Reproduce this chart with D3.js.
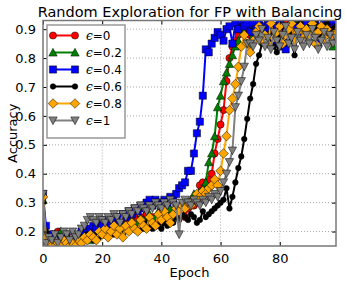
<!DOCTYPE html>
<meta charset="utf-8">
<style>
body { margin: 0; background: #fff; }
svg { display: block; font-family: "DejaVu Sans", sans-serif; }
.axis text { font: 13px "DejaVu Sans", sans-serif; fill: #000; }
.axis path { display: none; }
.axis line { stroke: #000; }
.grid line { stroke: #aaa; stroke-dasharray: 1,2; }
.title { font: 14.5px "DejaVu Sans", sans-serif; }
.label { font: 13px "DejaVu Sans", sans-serif; }
.legend text { font: 12px "DejaVu Sans", sans-serif; }
</style>
<svg width="346" height="283"></svg>
<script src="https://d3js.org/d3.v7.min.js"></script>
<script>

var epochs = d3.range(0, 100);

var eps0 = [
  0.32, 0.18, 0.17, 0.19, 0.16, 0.20, 0.20, 0.17, 0.16, 0.18,
  0.15, 0.17, 0.19, 0.20, 0.18, 0.21, 0.19, 0.20, 0.22, 0.21,
  0.20, 0.22, 0.21, 0.23, 0.22, 0.21, 0.23, 0.24, 0.22, 0.24,
  0.23, 0.25, 0.24, 0.22, 0.25, 0.26, 0.24, 0.25, 0.22, 0.23,
  0.25, 0.26, 0.24, 0.27, 0.25, 0.28, 0.26, 0.27, 0.25, 0.28,
  0.30, 0.29, 0.31, 0.36, 0.37, 0.35, 0.38, 0.40, 0.47, 0.52,
  0.57, 0.62, 0.72, 0.80, 0.84, 0.86, 0.88, 0.90, 0.92, 0.90,
  0.88, 0.91, 0.89, 0.92, 0.87, 0.90, 0.93, 0.89, 0.88, 0.91,
  0.90, 0.87, 0.92, 0.89, 0.91, 0.88, 0.90, 0.93, 0.89, 0.91,
  0.88, 0.90, 0.92, 0.87, 0.91, 0.89, 0.90, 0.92, 0.88, 0.90
];

var eps02 = [
  0.31, 0.17, 0.16, 0.18, 0.19, 0.17, 0.20, 0.18, 0.16, 0.17,
  0.16, 0.15, 0.17, 0.16, 0.18, 0.19, 0.17, 0.18, 0.20, 0.19,
  0.21, 0.19, 0.20, 0.22, 0.21, 0.20, 0.22, 0.23, 0.21, 0.22,
  0.24, 0.22, 0.23, 0.25, 0.24, 0.23, 0.26, 0.24, 0.25, 0.27,
  0.26, 0.25, 0.27, 0.28, 0.26, 0.29, 0.27, 0.28, 0.30, 0.29,
  0.31, 0.33, 0.32, 0.34, 0.35, 0.37, 0.44, 0.47, 0.53, 0.63,
  0.67, 0.72, 0.75, 0.78, 0.81, 0.84, 0.86, 0.90, 0.89, 0.92,
  0.90, 0.88, 0.92, 0.89, 0.91, 0.87, 0.90, 0.92, 0.88, 0.91,
  0.89, 0.92, 0.87, 0.90, 0.91, 0.88, 0.93, 0.90, 0.89, 0.91,
  0.87, 0.90, 0.92, 0.89, 0.88, 0.91, 0.90, 0.86, 0.84, 0.87
];

var eps04 = [
  0.33, 0.22, 0.17, 0.19, 0.16, 0.15, 0.18, 0.17, 0.19, 0.16,
  0.15, 0.17, 0.18, 0.20, 0.19, 0.21, 0.20, 0.22, 0.21, 0.23,
  0.22, 0.24, 0.23, 0.22, 0.24, 0.25, 0.24, 0.26, 0.25, 0.27,
  0.26, 0.28, 0.27, 0.29, 0.28, 0.30, 0.31, 0.29, 0.31, 0.30,
  0.29, 0.31, 0.30, 0.32, 0.31, 0.33, 0.35, 0.36, 0.37, 0.41,
  0.41, 0.47, 0.54, 0.58, 0.67, 0.83, 0.82, 0.85, 0.87, 0.89,
  0.88, 0.86, 0.90, 0.91, 0.85, 0.92, 0.90, 0.93, 0.91, 0.92,
  0.89, 0.92, 0.90, 0.93, 0.91, 0.89, 0.92, 0.90, 0.85, 0.91,
  0.93, 0.84, 0.83, 0.89, 0.92, 0.91, 0.88, 0.93, 0.90, 0.92,
  0.89, 0.91, 0.93, 0.85, 0.90, 0.92, 0.91, 0.89, 0.93, 0.90
];

var eps06 = [
  0.30, 0.20, 0.18, 0.17, 0.16, 0.15, 0.17, 0.16, 0.18, 0.17,
  0.16, 0.15, 0.17, 0.18, 0.17, 0.19, 0.18, 0.17, 0.19, 0.18,
  0.20, 0.19, 0.18, 0.20, 0.19, 0.21, 0.20, 0.19, 0.21, 0.20,
  0.22, 0.21, 0.20, 0.22, 0.21, 0.23, 0.22, 0.21, 0.23, 0.22,
  0.21, 0.23, 0.22, 0.24, 0.23, 0.25, 0.24, 0.26, 0.25, 0.24,
  0.26, 0.25, 0.23, 0.24, 0.27, 0.25, 0.26, 0.27, 0.28, 0.29,
  0.30, 0.31, 0.35, 0.28, 0.32, 0.37, 0.42, 0.46, 0.52, 0.59,
  0.66, 0.71, 0.78, 0.81, 0.85, 0.88, 0.86, 0.89, 0.84, 0.82,
  0.87, 0.90, 0.88, 0.91, 0.86, 0.81, 0.89, 0.92, 0.90, 0.88,
  0.91, 0.89, 0.93, 0.90, 0.87, 0.91, 0.92, 0.89, 0.90, 0.91
];

var eps08 = [
  0.32, 0.18, 0.16, 0.15, 0.17, 0.16, 0.15, 0.17, 0.16, 0.15,
  0.16, 0.15, 0.17, 0.16, 0.18, 0.17, 0.19, 0.18, 0.17, 0.20,
  0.19, 0.21, 0.18, 0.20, 0.22, 0.19, 0.21, 0.18, 0.22, 0.20,
  0.23, 0.21, 0.20, 0.24, 0.22, 0.21, 0.25, 0.23, 0.22, 0.26,
  0.24, 0.27, 0.25, 0.23, 0.26, 0.28, 0.27, 0.29, 0.28, 0.30,
  0.29, 0.31, 0.33, 0.32, 0.34, 0.33, 0.35, 0.36, 0.38, 0.36,
  0.41, 0.47, 0.53, 0.62, 0.66, 0.71, 0.77, 0.84, 0.88, 0.85,
  0.82, 0.86, 0.89, 0.91, 0.86, 0.88, 0.85, 0.92, 0.87, 0.89,
  0.91, 0.85, 0.88, 0.90, 0.92, 0.86, 0.89, 0.91, 0.87, 0.90,
  0.88, 0.92, 0.85, 0.89, 0.91, 0.87, 0.90, 0.86, 0.88, 0.89
];

var eps1 = [
  0.33, 0.16, 0.18, 0.17, 0.19, 0.16, 0.18, 0.20, 0.19, 0.17,
  0.20, 0.18, 0.19, 0.21, 0.22, 0.24, 0.25, 0.24, 0.23, 0.25,
  0.24, 0.23, 0.25, 0.24, 0.26, 0.25, 0.23, 0.26, 0.25, 0.27,
  0.26, 0.28, 0.27, 0.29, 0.28, 0.27, 0.29, 0.28, 0.30, 0.29,
  0.28, 0.30, 0.29, 0.31, 0.30, 0.29, 0.19, 0.30, 0.31, 0.30,
  0.29, 0.31, 0.30, 0.29, 0.31, 0.30, 0.32, 0.31, 0.33, 0.32,
  0.34, 0.37, 0.40, 0.44, 0.48, 0.63, 0.67, 0.72, 0.77, 0.85,
  0.85, 0.84, 0.88, 0.86, 0.90, 0.84, 0.87, 0.83, 0.89, 0.86,
  0.84, 0.88, 0.91, 0.85, 0.87, 0.83, 0.89, 0.86, 0.84, 0.88,
  0.85, 0.90, 0.87, 0.83, 0.86, 0.89, 0.84, 0.88, 0.85, 0.87
];

var seriesNames = ["0", "0.2", "0.4", "0.6", "0.8", "1"];
var seriesValues = [eps0, eps02, eps04, eps06, eps08, eps1];
var seriesColors = ["#ff0000", "#008000", "#0000ff", "#000000", "#ffa500", "#808080"];
var seriesMarkers = ["circle", "triangleUp", "square", "dot", "diamond", "triangleDown"];

var xTicks = [0, 20, 40, 60, 80];
var yTicks = [0.2, 0.3, 0.4, 0.5, 0.6, 0.7, 0.8, 0.9];

var svg = d3.select("svg"),
    margin = {top: 20.5, right: 10, bottom: 37, left: 43},
    width = 346 - margin.left - margin.right,
    height = 283 - margin.top - margin.bottom;

var x = d3.scaleLinear().domain([0, 99]).range([0, width]);
var y = d3.scaleLinear().domain([0.15, 0.93]).range([height, 0]);

var g = svg.append("g")
    .attr("transform", "translate(" + margin.left + "," + margin.top + ")");

g.append("clipPath").attr("id", "clip")
  .append("rect").attr("width", width).attr("height", height);

// grid
g.append("g").attr("class", "grid")
  .selectAll("line").data(xTicks.slice(1)).enter().append("line")
    .attr("x1", function(d) { return x(d); }).attr("x2", function(d) { return x(d); })
    .attr("y1", 0).attr("y2", height);
g.append("g").attr("class", "grid")
  .selectAll("line").data(yTicks).enter().append("line")
    .attr("y1", function(d) { return y(d); }).attr("y2", function(d) { return y(d); })
    .attr("x1", 0).attr("x2", width);

function marker(type) {
  switch (type) {
    case "circle": return "M3.6,0A3.6,3.6 0 1,1 -3.6,0A3.6,3.6 0 1,1 3.6,0Z";
    case "dot": return "M2.8,0A2.8,2.8 0 1,1 -2.8,0A2.8,2.8 0 1,1 2.8,0Z";
    case "square": return "M-3.6,-3.6H3.6V3.6H-3.6Z";
    case "diamond": return "M0,-4.8L4.8,0L0,4.8L-4.8,0Z";
    case "triangleUp": return "M0,-4.2L4.2,3.6L-4.2,3.6Z";
    case "triangleDown": return "M0,4.2L4.2,-3.6L-4.2,-3.6Z";
  }
}

var line = d3.line()
    .x(function(d, i) { return x(epochs[i]); })
    .y(function(d) { return y(d); });

var plot = g.append("g").attr("clip-path", "url(#clip)");

seriesValues.forEach(function(vals, k) {
  var s = plot.append("g");
  s.append("path")
      .attr("d", line(vals))
      .attr("fill", "none")
      .attr("stroke", seriesColors[k])
      .attr("stroke-width", 2);
  s.selectAll("path.m").data(vals).enter().append("path")
      .attr("class", "m")
      .attr("d", marker(seriesMarkers[k]))
      .attr("transform", function(d, i) { return "translate(" + x(epochs[i]) + "," + y(d) + ")"; })
      .attr("fill", seriesColors[k])
      .attr("stroke", "#000")
      .attr("stroke-width", 0.5);
});

// axes
g.append("g").attr("class", "axis")
    .attr("transform", "translate(0," + height + ")")
    .call(d3.axisBottom(x).tickValues(xTicks).tickSize(-4).tickPadding(8).tickFormat(d3.format("d")));
g.append("g").attr("class", "axis")
    .call(d3.axisTop(x).tickValues(xTicks).tickSize(-4).tickFormat(""));
g.append("g").attr("class", "axis")
    .call(d3.axisLeft(y).tickValues(yTicks).tickSize(-4).tickPadding(7).tickFormat(d3.format(".1f")));
g.append("g").attr("class", "axis")
    .attr("transform", "translate(" + width + ",0)")
    .call(d3.axisRight(y).tickValues(yTicks).tickSize(-4).tickFormat(""));

g.append("rect")
    .attr("width", width).attr("height", height)
    .attr("fill", "none").attr("stroke", "#777").attr("stroke-width", 1.5);

// legend
var legend = g.append("g").attr("class", "legend")
    .attr("transform", "translate(4,4.5)");
legend.append("rect")
    .attr("width", 78).attr("height", 113)
    .attr("fill", "#fff").attr("stroke", "#999").attr("stroke-width", 1.5);

var item = legend.selectAll("g.item").data(seriesNames).enter().append("g")
    .attr("class", "item")
    .attr("transform", function(d, i) { return "translate(0," + (10.5 + i * 17) + ")"; });

item.append("line")
    .attr("x1", 6).attr("x2", 28)
    .attr("stroke", function(d, i) { return seriesColors[i]; })
    .attr("stroke-width", 2);
[6, 28].forEach(function(px) {
  item.append("path")
      .attr("d", function(d, i) { return marker(seriesMarkers[i]); })
      .attr("transform", "translate(" + px + ",0)")
      .attr("fill", function(d, i) { return seriesColors[i]; })
      .attr("stroke", "#000").attr("stroke-width", 0.5);
});
var lt = item.append("text")
    .attr("x", 39).attr("dy", "0.35em");
lt.append("tspan")
    .style("font-family", "'DejaVu Serif', serif")
    .style("font-style", "italic")
    .text("\u03f5");
lt.append("tspan")
    .text(function(d) { return "=" + d; });

// titles
svg.append("text").attr("class", "title")
    .attr("x", margin.left + width / 2 + 0.5).attr("y", 17)
    .attr("text-anchor", "middle")
    .text("Random Exploration for FP with Balancing");

svg.append("text").attr("class", "label")
    .attr("x", margin.left + width / 2).attr("y", 277)
    .attr("text-anchor", "middle")
    .text("Epoch");

svg.append("text").attr("class", "label")
    .attr("transform", "translate(17," + (margin.top + height / 2) + ") rotate(-90)")
    .attr("text-anchor", "middle")
    .text("Accuracy");

</script>
